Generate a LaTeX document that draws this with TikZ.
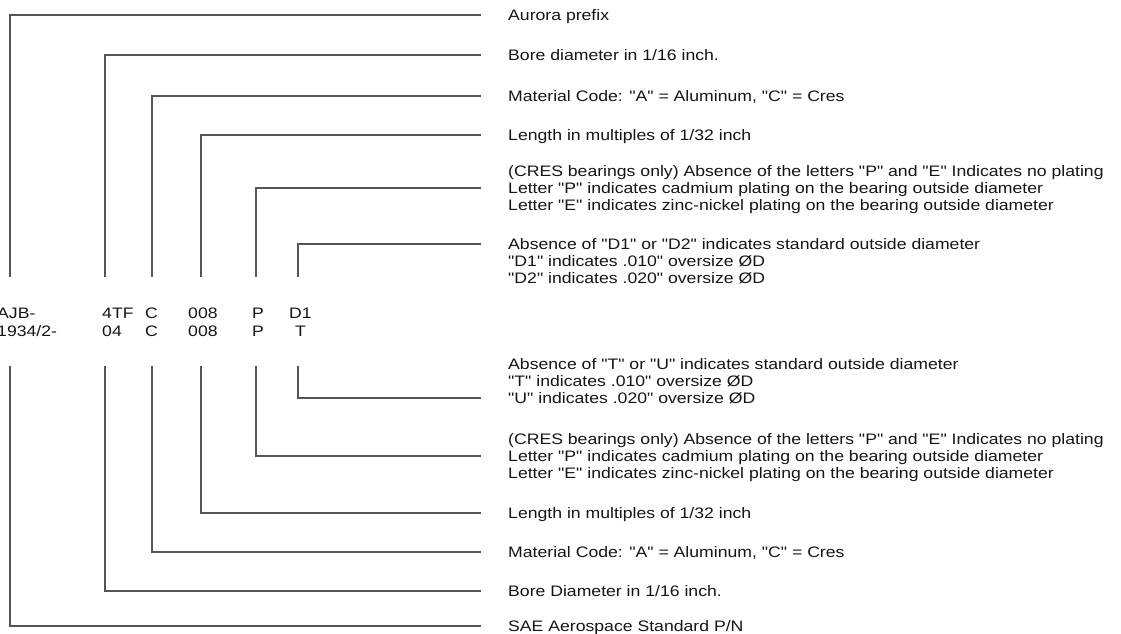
\documentclass[tikz,border=0pt]{standalone}
\usepackage{fontspec}
\setmainfont[Ligatures=TeXOff, FakeStretch=1.16]{Liberation Sans}
\definecolor{leadgray}{HTML}{555555}
\definecolor{inkblack}{HTML}{151515}

\begin{document}
\begin{tikzpicture}[
  x=1pt, y=-1pt,
  code/.style={anchor=west, inner sep=0pt, text=inkblack,
    font=\fontsize{15.2}{17}\selectfont, text height=11pt, text depth=0pt},
  desc/.style={code, inner xsep=27pt},
  lead/.style={draw=leadgray, line width=1.3pt},
]
  \useasboundingbox (0,0) rectangle (1121,634);

  % part number, two rows
  \node[code] (cPre)   at (-3,313)  {AJB-};
  \node[code] (cBore)  at (102,313) {4TF};
  \node[code] (cMat)   at (145,313) {C};
  \node[code] (cLen)   at (188,313) {008};
  \node[code] (cPlate) at (252,313) {P};
  \node[code] (cOver)  at (289,313) {D1};
  \node[code] (sPre)   at (-3,331)  {1934/2-};
  \node[code] (sBore)  at (102,331) {04};
  \node[code] (sMat)   at (145,331) {C};
  \node[code] (sLen)   at (188,331) {008};
  \node[code] (sPlate) at (252,331) {P};
  \node[code] (sOver)  at (295,331) {T};

  % upper descriptions
  \node[desc] (dAurora) at (481,15)  {Aurora prefix};
  \node[desc] (dBore)   at (481,55)  {Bore diameter in 1/16 inch.};
  \node[desc] (dMat)    at (481,96)  {Material Code: "A" = Aluminum, "C" = Cres};
  \node[desc] (dLen)    at (481,135) {Length in multiples of 1/32 inch};
  \node[desc] (dPlateA) at (481,171) {(CRES bearings only) Absence of the letters "P" and "E" Indicates no plating};
  \node[desc] (dPlateB) at (481,188) {Letter "P" indicates cadmium plating on the bearing outside diameter};
  \node[desc] (dPlateC) at (481,205) {Letter "E" indicates zinc-nickel plating on the bearing outside diameter};
  \node[desc] (dOverA)  at (481,244) {Absence of "D1" or "D2" indicates standard outside diameter};
  \node[desc] (dOverB)  at (481,261) {"D1" indicates .010" oversize ØD};
  \node[desc] (dOverC)  at (481,278) {"D2" indicates .020" oversize ØD};

  % lower descriptions
  \node[desc] (eOverA)  at (481,364) {Absence of "T" or "U" indicates standard outside diameter};
  \node[desc] (eOverB)  at (481,381) {"T" indicates .010" oversize ØD};
  \node[desc] (eOverC)  at (481,398) {"U" indicates .020" oversize ØD};
  \node[desc] (ePlateA) at (481,439) {(CRES bearings only) Absence of the letters "P" and "E" Indicates no plating};
  \node[desc] (ePlateB) at (481,456) {Letter "P" indicates cadmium plating on the bearing outside diameter};
  \node[desc] (ePlateC) at (481,473) {Letter "E" indicates zinc-nickel plating on the bearing outside diameter};
  \node[desc] (eLen)    at (481,513) {Length in multiples of 1/32 inch};
  \node[desc] (eMat)    at (481,552) {Material Code: "A" = Aluminum, "C" = Cres};
  \node[desc] (eBore)   at (481,591) {Bore Diameter in 1/16 inch.};
  \node[desc] (eSAE)    at (481,626) {SAE Aerospace Standard P/N};

  % tap points above and below the part number
  \coordinate (tPre)   at (10,277);
  \coordinate (tBore)  at (105,277);
  \coordinate (tMat)   at (152,277);
  \coordinate (tLen)   at (201,277);
  \coordinate (tPlate) at (256,277);
  \coordinate (tOver)  at (298,277);
  \coordinate (bPre)   at (10,366);
  \coordinate (bBore)  at (105,366);
  \coordinate (bMat)   at (152,366);
  \coordinate (bLen)   at (201,366);
  \coordinate (bPlate) at (256,366);
  \coordinate (bOver)  at (298,366);

  \draw[lead] (tPre) |- (dAurora.west);
  \draw[lead] (tBore) |- (dBore.west);
  \draw[lead] (tMat) |- (dMat.west);
  \draw[lead] (tLen) |- (dLen.west);
  \draw[lead] (tPlate) |- (dPlateB.west);
  \draw[lead] (tOver) |- (dOverA.west);

  \draw[lead] (bOver) |- (eOverC.west);
  \draw[lead] (bPlate) |- (ePlateB.west);
  \draw[lead] (bLen) |- (eLen.west);
  \draw[lead] (bMat) |- (eMat.west);
  \draw[lead] (bBore) |- (eBore.west);
  \draw[lead] (bPre) |- (eSAE.west);
\end{tikzpicture}
\end{document}
